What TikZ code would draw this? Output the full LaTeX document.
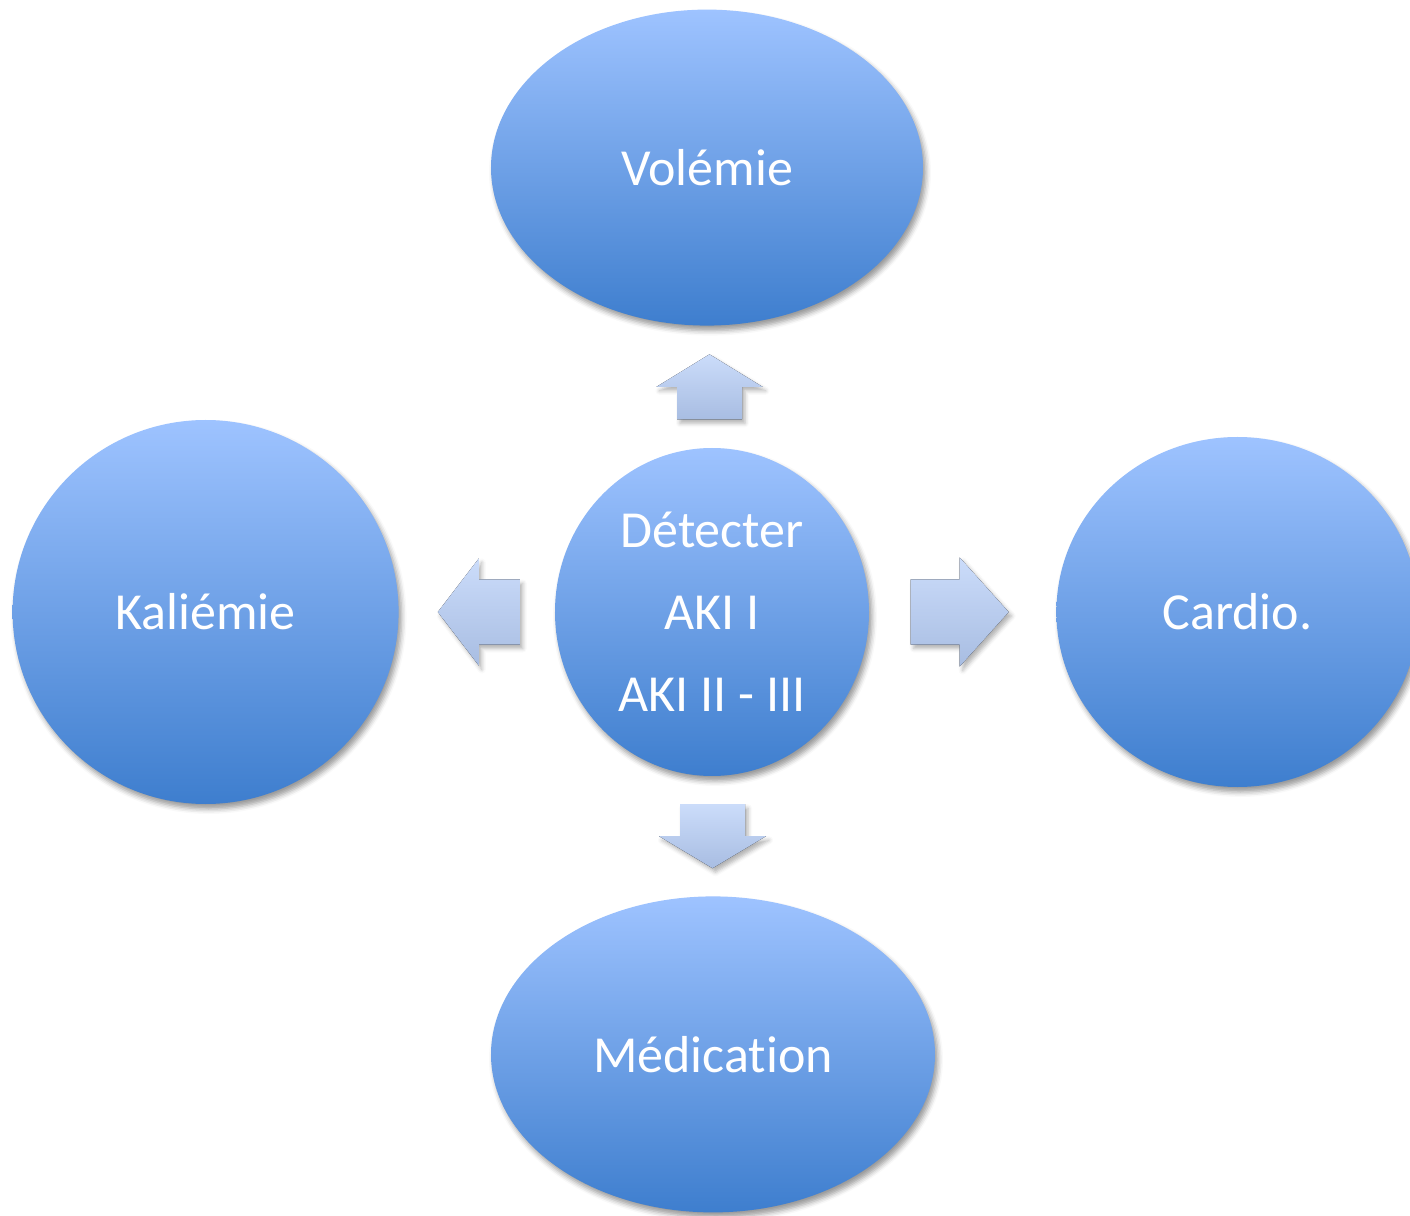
\documentclass[tikz,border=0pt]{standalone}
\usepackage{fontspec}
\setmainfont{Carlito}[Ligatures=NoCommon]
\usepackage{xcolor}
\usepackage{tikz}
\usetikzlibrary{positioning, calc, shapes.geometric, shadows.blur}
\definecolor{balltop}{RGB}{158,195,255}
\definecolor{ballbot}{RGB}{62,126,206}
\definecolor{arrtop}{RGB}{203,220,250}
\definecolor{arrbot}{RGB}{168,189,226}

\begin{document}
\begin{tikzpicture}[
    x=1pt, y=1pt,
    ball/.style={ellipse, inner sep=0pt, text=white, top color=balltop, bottom color=ballbot,
        font=\fontsize{52}{82}\selectfont, align=center,
        blur shadow={shadow xshift=3pt, shadow yshift=-5pt, shadow blur radius=5pt, shadow opacity=40}},
    blockarrow/.style={top color=arrtop, bottom color=arrbot,
        blur shadow={shadow xshift=3pt, shadow yshift=-4pt, shadow blur radius=4pt, shadow opacity=30}},
]
    \useasboundingbox (-712,-603) rectangle (698,612);
    \node[ball, minimum width=314pt, minimum height=328pt] (det) at (0,0) {D\'etecter\\AKI I\\AKI II - III};
    \node[ball, minimum width=432pt, minimum height=316pt, above=122pt of det, xshift=-5pt] (vol) {Vol\'emie};
    \node[ball, minimum width=386pt, minimum height=384pt, left=156pt of det] (kal) {Kali\'emie};
    \node[ball, minimum width=362pt, minimum height=350pt, right=187pt of det] (car) {Cardio.};
    \node[ball, minimum width=444pt, minimum height=316pt, below=120pt of det, xshift=1pt] (med) {M\'edication};

    % arrows between the centre and the outer balls
    \coordinate (up) at ($(vol.south)!0.5!(det.north)$);
    \coordinate (dn) at ($(det.south)!0.5!(med.north)$);
    \coordinate (lt) at ($(kal.east)!0.5!(det.west)$);
    \coordinate (rt) at ($(det.east)!0.5!(car.west)$);
    \fill[blockarrow] (up) ++(-32.5,-32.5) -- ++(65,0) -- ++(0,32.5) -- ++(20.5,0) -- ++(-53,32.5) -- ++(-53,-32.5) -- ++(20.5,0) -- cycle;
    \fill[blockarrow] (dn) ++(-32.5,32) -- ++(65,0) -- ++(0,-32) -- ++(21,0) -- ++(-53.5,-32) -- ++(-53.5,32) -- ++(21,0) -- cycle;
    \fill[blockarrow] (lt) ++(43,32.5) -- ++(-41,0) -- ++(0,21) -- ++(-41,-53.5) -- ++(41,-53.5) -- ++(0,21) -- ++(41,0) -- cycle;
    \fill[blockarrow] (rt) ++(-52,32.5) -- ++(49,0) -- ++(0,22) -- ++(49,-54.5) -- ++(-49,-54.5) -- ++(0,22) -- ++(-49,0) -- cycle;
\end{tikzpicture}
\end{document}
